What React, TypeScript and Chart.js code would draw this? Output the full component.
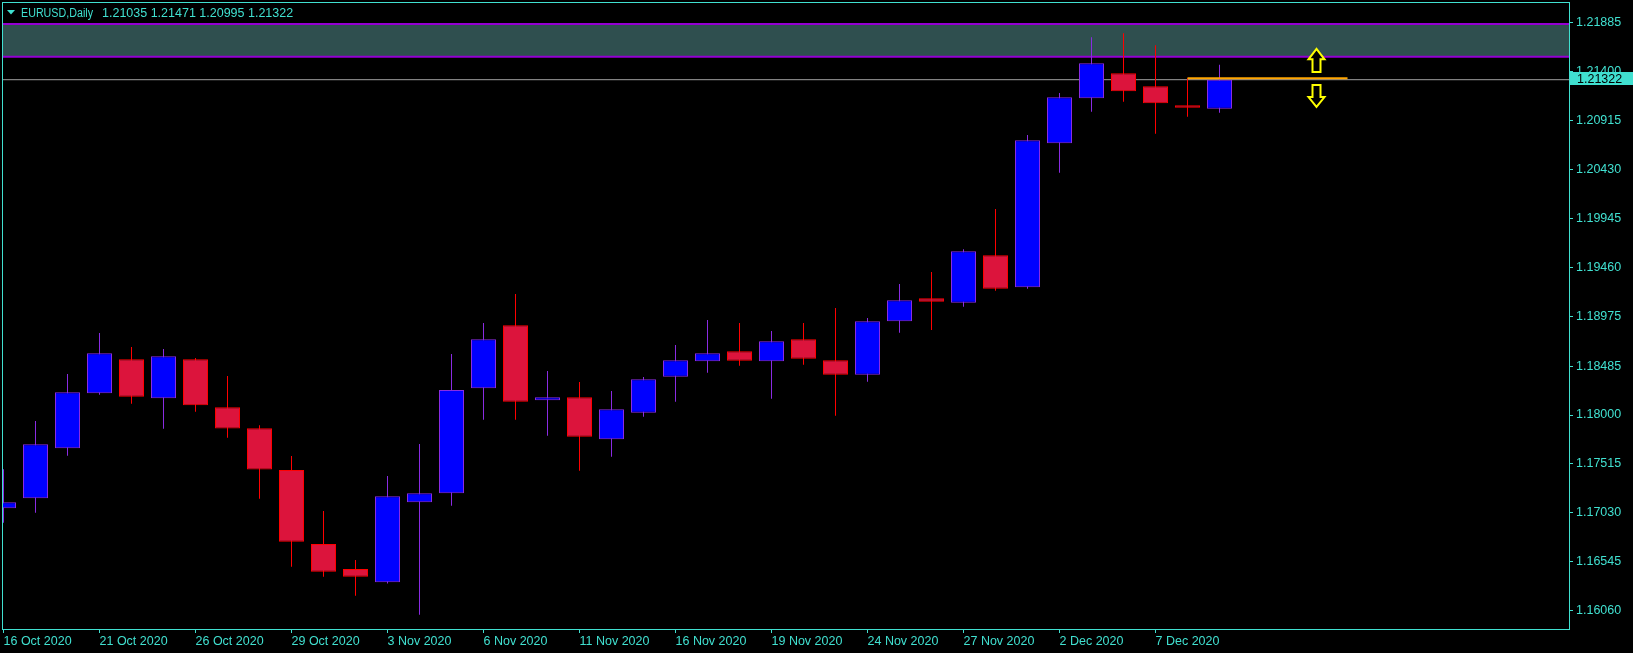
import React, { useEffect, useRef } from "react";
import { Chart, registerables } from "chart.js";

Chart.register(...registerables);

// ---------- data ----------
const symbolTitle = "EURUSD,Daily";

const dates = [
  "16 Oct 2020", "19 Oct 2020", "20 Oct 2020", "21 Oct 2020", "22 Oct 2020", "23 Oct 2020",
  "26 Oct 2020", "27 Oct 2020", "28 Oct 2020", "29 Oct 2020", "30 Oct 2020",
  "2 Nov 2020", "3 Nov 2020", "4 Nov 2020", "5 Nov 2020", "6 Nov 2020",
  "9 Nov 2020", "10 Nov 2020", "11 Nov 2020", "12 Nov 2020", "13 Nov 2020",
  "16 Nov 2020", "17 Nov 2020", "18 Nov 2020", "19 Nov 2020", "20 Nov 2020",
  "23 Nov 2020", "24 Nov 2020", "25 Nov 2020", "26 Nov 2020", "27 Nov 2020",
  "30 Nov 2020", "1 Dec 2020", "2 Dec 2020", "3 Dec 2020", "4 Dec 2020",
  "7 Dec 2020", "8 Dec 2020", "9 Dec 2020",
];

const opens = [
  1.17076, 1.17175, 1.17670, 1.18215, 1.18552, 1.18166, 1.18552, 1.18076, 1.17868, 1.17455,
  1.16722, 1.16474, 1.16343, 1.17135, 1.17224, 1.18265, 1.18889, 1.18146, 1.18175, 1.17759,
  1.18023, 1.18380, 1.18532, 1.18631, 1.18532, 1.18750, 1.18542, 1.18399, 1.18928, 1.19156,
  1.19113, 1.19582, 1.19265, 1.20692, 1.21138, 1.21386, 1.21257, 1.21069, 1.21035,
];
const highs = [
  1.17462, 1.17941, 1.18406, 1.18813, 1.18674, 1.18654, 1.18565, 1.18386, 1.17898, 1.17594,
  1.17049, 1.16563, 1.17396, 1.17713, 1.18604, 1.18912, 1.19199, 1.18436, 1.18327, 1.18238,
  1.18377, 1.18694, 1.18941, 1.18912, 1.18832, 1.18912, 1.19060, 1.18961, 1.19298, 1.19417,
  1.19642, 1.20041, 1.20774, 1.21190, 1.21742, 1.21782, 1.21663, 1.21336, 1.21471,
];
const lows = [
  1.16933, 1.17032, 1.17597, 1.18201, 1.18112, 1.17864, 1.18033, 1.17775, 1.17171, 1.16497,
  1.16398, 1.16210, 1.16330, 1.16021, 1.17101, 1.17954, 1.17954, 1.17795, 1.17448, 1.17587,
  1.17983, 1.18132, 1.18419, 1.18489, 1.18162, 1.18498, 1.17993, 1.18330, 1.18816, 1.18842,
  1.19073, 1.19231, 1.19252, 1.20401, 1.21005, 1.21104, 1.20787, 1.20956, 1.20995,
];
const closes = [
  1.17135, 1.17710, 1.18225, 1.18611, 1.18181, 1.18582, 1.18096, 1.17866, 1.17460, 1.16745,
  1.16448, 1.16398, 1.17195, 1.17224, 1.18248, 1.18750, 1.18132, 1.18175, 1.17785, 1.18057,
  1.18354, 1.18542, 1.18611, 1.18538, 1.18730, 1.18558, 1.18399, 1.18928, 1.19137, 1.19123,
  1.19622, 1.19251, 1.20722, 1.21148, 1.21485, 1.21207, 1.21088, 1.21045, 1.21322,
];

const yTickValues = [
  1.21885, 1.214, 1.20915, 1.2043, 1.19945, 1.1946, 1.18975, 1.18485, 1.18, 1.17515, 1.1703, 1.16545, 1.1606,
];
const xTickIndices = [0, 3, 6, 9, 12, 15, 18, 21, 24, 27, 30, 33, 36];

// zone (rectangle object between two horizontal lines)
const zoneTop = 1.21875;
const zoneBottom = 1.2155;
// orange level line
const levelFrom = 37;
const levelTo = 42;
const levelPrice = 1.21336;
// arrow objects: bar index, base price, tip price
const arrowIndex = [41, 41];
const arrowBase = [1.21399, 1.2127];
const arrowTip = [1.21627, 1.21052];

// view range
const xMin = -0.015625;
const xMax = 48.921875;
const yMin = 1.1588;
const yMax = 1.22082;

// ---------- styles ----------
const TURQ = "#40E0D0";
const BULL_FILL = "#0000FF";
const BULL_LINE = "#8A2BE2";
const BEAR_FILL = "#DC143C";
const BEAR_LINE = "#FF0000";
const VIOLET = "#9400D3";
const FONT = '"Liberation Sans", Arial, sans-serif';
const FS = 12.5;

export default function App() {
  const ref = useRef<HTMLCanvasElement | null>(null);

  useEffect(() => {
    document.body.style.margin = "0";
    document.body.style.background = "#000";
    const canvas = ref.current;
    if (!canvas) return;

    const n = dates.length;
    const isBull = (i: number) => closes[i] >= opens[i];
    const last = n - 1;

    const decor = {
      id: "decor",
      beforeDraw(chart: any) {
        const ctx = chart.ctx;
        ctx.save();
        ctx.fillStyle = "#000";
        ctx.fillRect(0, 0, chart.width, chart.height);
        ctx.restore();
      },
      afterDraw(chart: any) {
        const { ctx, chartArea: a, scales } = chart;
        const xs = scales.x;
        const ys = scales.y;
        ctx.save();
        // arrows
        for (let k = 0; k < arrowIndex.length; k++) {
          const x = Math.round(xs.getPixelForValue(arrowIndex[k])) + 0.5;
          const yb = ys.getPixelForValue(arrowBase[k]);
          const yt = ys.getPixelForValue(arrowTip[k]);
          const d = yt > yb ? 1 : -1;
          const h = Math.abs(yt - yb);
          const hb = yt - d * h * 0.45;
          const hw = 8;
          const sw = 4;
          ctx.beginPath();
          ctx.moveTo(x, yt);
          ctx.lineTo(x + hw, hb);
          ctx.lineTo(x + sw, hb);
          ctx.lineTo(x + sw, yb);
          ctx.lineTo(x - sw, yb);
          ctx.lineTo(x - sw, hb);
          ctx.lineTo(x - hw, hb);
          ctx.closePath();
          ctx.fillStyle = "#000";
          ctx.fill();
          ctx.strokeStyle = "#FFFF00";
          ctx.lineWidth = 2;
          ctx.stroke();
        }
        // plot border
        ctx.strokeStyle = TURQ;
        ctx.lineWidth = 1;
        ctx.strokeRect(a.left - 0.5, a.top - 0.5, a.right - a.left + 1, a.bottom - a.top + 1);
        // price tag
        const py = ys.getPixelForValue(closes[last]) - 1;
        ctx.fillStyle = TURQ;
        ctx.fillRect(a.right + 1, Math.round(py - 6.5), chart.width - a.right - 1, 13);
        ctx.fillStyle = "#000";
        ctx.font = `${FS}px ${FONT}`;
        ctx.textBaseline = "middle";
        ctx.textAlign = "left";
        ctx.fillText(closes[last].toFixed(5), a.right + 8, py + 0.5);
        // title
        ctx.fillStyle = TURQ;
        ctx.beginPath();
        ctx.moveTo(7, 10);
        ctx.lineTo(15, 10);
        ctx.lineTo(11, 14.5);
        ctx.closePath();
        ctx.fill();
        ctx.textBaseline = "alphabetic";
        ctx.fillText(symbolTitle, 21, 17, 72);
        const vals = [opens[last], highs[last], lows[last], closes[last]].map((v) => v.toFixed(5)).join(" ");
        ctx.fillText(vals, 102, 17);
        ctx.restore();
      },
    };

    const hLine = (price: number, color: string, width: number, order: number, extra: any = {}) => ({
      type: "line" as const,
      data: [
        { x: xMin - 1, y: price },
        { x: xMax + 1, y: price },
      ],
      borderColor: color,
      borderWidth: width,
      pointRadius: 0,
      fill: false,
      clip: 0,
      order,
      ...extra,
    });

    const chart = new Chart(canvas, {
      type: "bar",
      data: {
        datasets: [
          hLine(zoneTop, VIOLET, 2, 10),
          hLine(zoneBottom, VIOLET, 2, 9, { fill: "-1", backgroundColor: "#2F4F4F" }),
          hLine(closes[last], "#A0A0A0", 1, 8),
          {
            type: "bar" as const,
            data: dates.map((_, i) => ({ x: i, y: [lows[i], highs[i]] })),
            backgroundColor: dates.map((_, i) => (isBull(i) ? BULL_LINE : BEAR_LINE)),
            borderWidth: 0,
            barThickness: 1,
            maxBarThickness: 1,
            grouped: false,
            inflateAmount: 0,
            clip: 0,
            order: 5,
          } as any,
          {
            type: "bar" as const,
            data: dates.map((_, i) => ({ x: i, y: [opens[i], closes[i]] })),
            backgroundColor: dates.map((_, i) => (isBull(i) ? BULL_FILL : BEAR_FILL)),
            borderColor: dates.map((_, i) => (isBull(i) ? BULL_LINE : BEAR_LINE)),
            borderWidth: 1,
            borderSkipped: false,
            barThickness: 25,
            maxBarThickness: 25,
            grouped: false,
            inflateAmount: 0,
            clip: 0,
            order: 4,
          } as any,
          {
            type: "line" as const,
            data: [
              { x: levelFrom, y: levelPrice },
              { x: levelTo, y: levelPrice },
            ],
            borderColor: "#FFA500",
            borderWidth: 2,
            pointRadius: 0,
            fill: false,
            clip: 0,
            order: 1,
          },
        ] as any,
      },
      options: {
        animation: false,
        responsive: false,
        events: [],
        layout: { padding: { left: 3, top: 3, right: 0, bottom: 0 } },
        plugins: {
          legend: { display: false },
          tooltip: { enabled: false },
          filler: { drawTime: "beforeDatasetsDraw" },
        },
        scales: {
          x: {
            type: "linear",
            min: xMin,
            max: xMax,
            offset: false,
            afterBuildTicks: (s: any) => {
              s.ticks = xTickIndices.map((v) => ({ value: v }));
            },
            afterFit: (s: any) => {
              s.height = 24;
              s.paddingLeft = 0;
              s.paddingRight = 0;
              s.paddingTop = 0;
              s.paddingBottom = 0;
            },
            ticks: {
              autoSkip: false,
              maxRotation: 0,
              minRotation: 0,
              align: "start",
              padding: 1,
              color: TURQ,
              font: { family: FONT, size: FS },
              callback: (v: any) => dates[Math.round(Number(v))] ?? "",
            },
            grid: { display: true, drawOnChartArea: false, drawTicks: true, tickLength: 4, color: TURQ, offset: false },
            border: { display: false },
          },
          y: {
            type: "linear",
            position: "right",
            min: yMin,
            max: yMax,
            afterBuildTicks: (s: any) => {
              s.ticks = yTickValues.map((v) => ({ value: v }));
            },
            afterFit: (s: any) => {
              s.width = 64;
              s.paddingLeft = 0;
              s.paddingRight = 0;
              s.paddingTop = 0;
              s.paddingBottom = 0;
            },
            ticks: {
              autoSkip: false,
              padding: 3,
              color: TURQ,
              font: { family: FONT, size: FS },
              callback: (v: any) => Number(v).toFixed(5),
            },
            grid: { display: true, drawOnChartArea: false, drawTicks: true, tickLength: 4, color: TURQ },
            border: { display: false },
          },
        },
      } as any,
      plugins: [decor],
    });

    return () => chart.destroy();
  }, []);

  return (
    <div style={{ width: 1633, height: 653, background: "#000" }}>
      <canvas ref={ref} width={1633} height={653} style={{ display: "block" }} />
    </div>
  );
}
